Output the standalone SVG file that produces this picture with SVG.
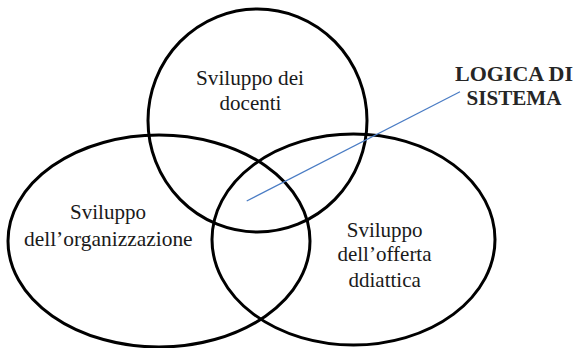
<svg xmlns="http://www.w3.org/2000/svg" width="575" height="348" viewBox="0 0 575 348">
<style>
.ring{fill:none;stroke:#000;stroke-width:3}
.lbl{font-family:"Liberation Serif","Times New Roman",serif;font-size:21px;fill:#1a1a1a;text-anchor:middle}
.bold{font-weight:bold;fill:#262626}
.conn{stroke:#4a7cc4;stroke-width:1.2;fill:none}
</style>
<rect width="575" height="348" fill="#fff"/>
<g id="docenti">
<ellipse class="ring" cx="257.5" cy="120.5" rx="109.5" ry="111.5"/>
<text class="lbl" x="250" y="85" textLength="108" lengthAdjust="spacingAndGlyphs">Sviluppo dei</text>
<text class="lbl" x="250.5" y="110">docenti</text>
</g>
<g id="organizzazione">
<ellipse class="ring" cx="159" cy="241" rx="151" ry="106"/>
<text class="lbl" x="108" y="219">Sviluppo</text>
<text class="lbl" x="108.3" y="246" textLength="168.7" lengthAdjust="spacingAndGlyphs">dell’organizzazione</text>
</g>
<g id="offerta">
<ellipse class="ring" cx="353.5" cy="239.5" rx="141.5" ry="105.5"/>
<text class="lbl" x="384.7" y="236.5">Sviluppo</text>
<text class="lbl" x="384.5" y="261">dell’offerta</text>
<text class="lbl" x="384.7" y="286.5">ddiattica</text>
</g>
<g id="logica">
<text class="lbl bold" x="514" y="80.5" textLength="118" lengthAdjust="spacingAndGlyphs">LOGICA DI</text>
<text class="lbl bold" x="514" y="105" textLength="95" lengthAdjust="spacingAndGlyphs">SISTEMA</text>
</g>
<g id="connectors">
<line class="conn" x1="246.7" y1="201" x2="460" y2="91.7"/>
</g>
</svg>
